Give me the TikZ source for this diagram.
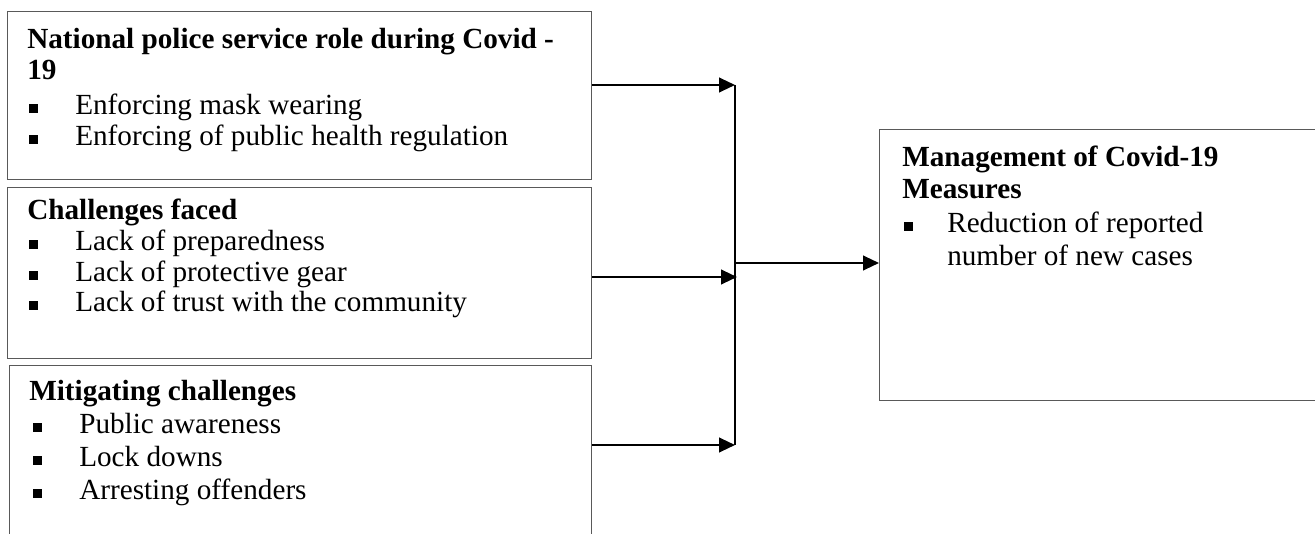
\documentclass[tikz,border=0pt]{standalone}
\usepackage{fontspec}
\setmainfont{Liberation Serif}
\usetikzlibrary{arrows.meta}
\newcommand{\bul}{\rule[1.8pt]{6.6pt}{6.6pt}}
\newcommand{\bitem}[2]{\makebox[#1][l]{\bul}#2}
\tikzset{
  box/.style={draw=black!65, line width=0.9pt, rectangle, inner sep=0pt, anchor=north west},
  txt/.style={anchor=base west, inner sep=0pt, font=\fontsize{21.9pt}{23.25pt}\selectfont},
  ttl/.style={txt, font=\fontsize{21.9pt}{23.25pt}\selectfont\bfseries},
  conn/.style={line width=1.6pt, -{Triangle[length=12pt, width=11pt]}},
  bus/.style={line width=1pt}
}
\begin{document}
\begin{tikzpicture}[x=0.75pt, y=-0.75pt]
\useasboundingbox (0,0) rectangle (1315,534);
\clip (0,0) rectangle (1315,534);
% boxes
\node[box, minimum width=438pt, minimum height=126pt] (b1) at (7,11) {};
\node[box, minimum width=438pt, minimum height=128.25pt] (b2) at (7,187) {};
\node[box, minimum width=436.5pt, minimum height=146.25pt] (b3) at (9,365) {};
\node[box, minimum width=345.75pt, minimum height=203.25pt] (mg) at (879,129) {};
% box 1 text
\node[ttl] (t1) at (27,49) {National police service role during Covid -};
\node[ttl] (t1n) at (27,80) {19};
\node[txt] (t1a) at (29,115) {\bitem{34.5pt}{Enforcing mask wearing}};
\node[txt] (t1b) at (29,146) {\bitem{34.5pt}{Enforcing of public health regulation}};
% box 2 text
\node[ttl] (t2) at (27,220) {Challenges faced};
\node[txt] (t2a) at (29,251) {\bitem{34.5pt}{Lack of preparedness}};
\node[txt] (t2b) at (29,282) {\bitem{34.5pt}{Lack of protective gear}};
\node[txt] (t2c) at (29,312) {\bitem{34.5pt}{Lack of trust with the community}};
% box 3 text
\node[ttl] (t3) at (29,401) {Mitigating challenges};
\node[txt] (t3a) at (33,434) {\bitem{34.5pt}{Public awareness}};
\node[txt] (t3b) at (33,467) {\bitem{34.5pt}{Lock downs}};
\node[txt] (t3c) at (33,500) {\bitem{34.5pt}{Arresting offenders}};
% right box text
\node[ttl] (t4) at (902,167) {Management of Covid-19};
\node[ttl] (t4n) at (902,199) {Measures};
\node[txt] (t4a) at (904,233) {\bitem{32.25pt}{Reduction of reported}};
\node[txt] (t4b) at (947,266) {number of new cases};
% connectors
\coordinate (j1) at (735,85);
\coordinate (j2) at (737,277);
\coordinate (j3) at (735,445);
\coordinate (jm) at (735,263);
\draw[conn] (b1.east |- j1) -- (j1);
\draw[conn] (b2.east |- j2) -- (j2);
\draw[conn] (b3.east |- j3) -- (j3);
\draw[bus] (j1) -- (j3);
\draw[conn] (jm) -- (jm -| mg.west);
\end{tikzpicture}
\end{document}
